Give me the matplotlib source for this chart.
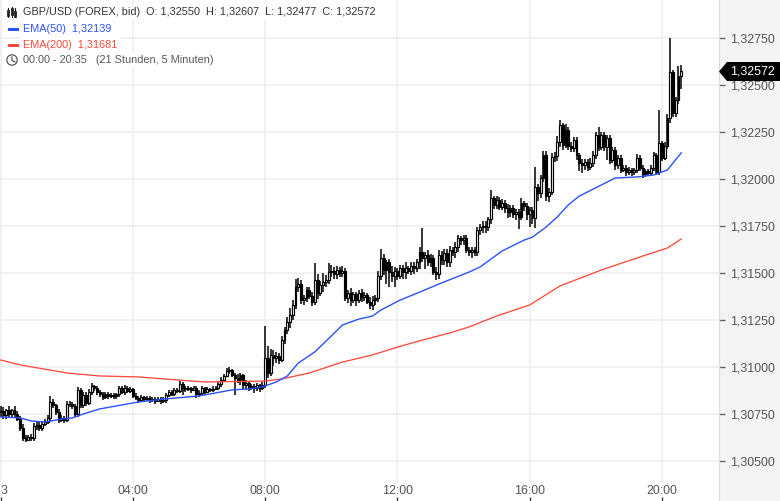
import matplotlib
matplotlib.use("Agg")
import matplotlib.pyplot as plt
from matplotlib.lines import Line2D
from matplotlib.patches import Circle, Polygon
from matplotlib.ticker import FuncFormatter
from matplotlib.transforms import IdentityTransform

# prices are points above the base: 760 -> 1,30760
BASE = 1.3

opens = [
    760, 765, 745, 772, 752, 770, 748, 722, 675, 622, 612, 628,
    620, 685, 690, 675, 697, 707, 729, 814, 798, 761, 718, 729,
    718, 803, 803, 792, 750, 878, 797, 851, 808, 867, 899, 888,
    867, 856, 840, 856, 846, 851, 846, 856, 888, 867, 888, 872,
    883, 846, 835, 824, 840, 830, 835, 824, 830, 819, 830, 819,
    824, 851, 867, 856, 878, 872, 909, 888, 883, 888, 878, 888,
    856, 862, 888, 867, 883, 878, 883, 888, 909, 931, 952, 979,
    984, 957, 941, 931, 957, 904, 915, 888, 899, 888, 904, 888,
    904, 1048, 968, 1064, 1048, 1058, 1037, 1143, 1197, 1239, 1276, 1330,
    1425, 1441, 1356, 1367, 1409, 1378, 1346, 1463, 1394, 1436, 1452, 1463,
    1505, 1511, 1495, 1516, 1500, 1511, 1367, 1394, 1356, 1388, 1356, 1394,
    1372, 1383, 1346, 1330, 1356, 1367, 1484, 1580, 1516, 1558, 1505, 1484,
    1511, 1484, 1526, 1505, 1526, 1511, 1537, 1526, 1558, 1612, 1580, 1596,
    1558, 1580, 1505, 1495, 1596, 1569, 1606, 1558, 1622, 1612, 1638, 1686,
    1675, 1686, 1622, 1612, 1622, 1612, 1729, 1745, 1750, 1745, 1787, 1899,
    1862, 1888, 1851, 1872, 1846, 1824, 1846, 1814, 1824, 1798, 1872, 1856,
    1814, 1835, 1792, 1957, 1925, 2005, 2128, 1909, 1931, 2117, 2122, 2197,
    2287, 2181, 2260, 2175, 2165, 2207, 2128, 2085, 2074, 2090, 2064, 2085,
    2128, 2234, 2170, 2234, 2170, 2218, 2101, 2154, 2074, 2112, 2048, 2058,
    2037, 2048, 2037, 2048, 2112, 2058, 2026, 2042, 2032, 2058, 2128, 2037,
    2191, 2112, 2175, 2324, 2569, 2351, 2420, 2550,
]
closes = [
    765, 745, 772, 752, 770, 748, 722, 675, 622, 612, 628, 620,
    685, 690, 675, 697, 707, 729, 814, 798, 761, 718, 729, 718,
    803, 803, 792, 750, 878, 797, 851, 808, 867, 899, 888, 867,
    856, 840, 856, 846, 851, 846, 856, 888, 867, 888, 872, 883,
    846, 835, 824, 840, 830, 835, 824, 830, 819, 830, 819, 824,
    851, 867, 856, 878, 872, 909, 888, 883, 888, 878, 888, 856,
    862, 888, 867, 883, 878, 883, 888, 909, 931, 952, 979, 984,
    957, 941, 931, 957, 904, 915, 888, 899, 888, 904, 888, 904,
    1048, 968, 1064, 1048, 1058, 1037, 1143, 1197, 1239, 1276, 1330, 1425,
    1441, 1356, 1367, 1409, 1378, 1346, 1463, 1394, 1436, 1452, 1463, 1505,
    1511, 1495, 1516, 1500, 1511, 1367, 1394, 1356, 1388, 1356, 1394, 1372,
    1383, 1346, 1330, 1356, 1367, 1484, 1580, 1516, 1558, 1505, 1484, 1511,
    1484, 1526, 1505, 1526, 1511, 1537, 1526, 1558, 1612, 1580, 1596, 1558,
    1580, 1505, 1495, 1596, 1569, 1606, 1558, 1622, 1612, 1638, 1686, 1675,
    1686, 1622, 1612, 1622, 1612, 1729, 1745, 1750, 1745, 1787, 1899, 1862,
    1888, 1851, 1872, 1846, 1824, 1846, 1814, 1824, 1798, 1872, 1856, 1814,
    1835, 1792, 1957, 1925, 2005, 2128, 1909, 1931, 2117, 2122, 2197, 2287,
    2181, 2260, 2175, 2165, 2207, 2128, 2085, 2074, 2090, 2064, 2085, 2128,
    2234, 2170, 2234, 2170, 2218, 2101, 2154, 2074, 2112, 2048, 2058, 2037,
    2048, 2037, 2048, 2112, 2058, 2026, 2042, 2032, 2058, 2128, 2037, 2191,
    2112, 2175, 2324, 2569, 2351, 2420, 2550, 2572,
]
highs = [
    790, 785, 775, 790, 775, 790, 768, 740, 695, 640, 640, 645,
    700, 705, 705, 712, 722, 745, 845, 830, 805, 775, 745, 740,
    820, 818, 815, 805, 895, 890, 865, 865, 882, 915, 905, 900,
    880, 868, 868, 868, 864, 862, 860, 900, 900, 905, 898, 895,
    890, 860, 845, 852, 848, 845, 848, 842, 842, 842, 838, 838,
    862, 880, 875, 890, 888, 925, 918, 900, 900, 895, 900, 900,
    875, 900, 895, 895, 890, 898, 900, 920, 945, 965, 992, 1000,
    990, 968, 960, 968, 965, 930, 925, 912, 908, 915, 910, 918,
    1218, 1110, 1095, 1090, 1080, 1075, 1165, 1215, 1265, 1315, 1355, 1470,
    1475, 1460, 1385, 1425, 1425, 1400, 1553, 1495, 1455, 1500, 1490, 1555,
    1540, 1530, 1535, 1530, 1535, 1525, 1410, 1420, 1400, 1400, 1410, 1415,
    1400, 1395, 1370, 1375, 1385, 1510, 1628, 1600, 1570, 1575, 1535, 1530,
    1525, 1545, 1540, 1560, 1535, 1560, 1560, 1575, 1640, 1739, 1610, 1620,
    1600, 1595, 1530, 1620, 1615, 1630, 1625, 1645, 1640, 1665, 1700, 1695,
    1700, 1700, 1640, 1640, 1640, 1745, 1760, 1775, 1775, 1800, 1940, 1910,
    1910, 1905, 1895, 1890, 1865, 1860, 1862, 1840, 1840, 1900, 1885, 1870,
    1850, 1850, 2064, 1975, 2020, 2150, 2150, 1950, 2140, 2145, 2230, 2314,
    2300, 2290, 2275, 2195, 2225, 2225, 2140, 2105, 2105, 2105, 2110, 2150,
    2250, 2276, 2250, 2250, 2235, 2232, 2170, 2170, 2125, 2125, 2075, 2075,
    2065, 2060, 2060, 2135, 2125, 2075, 2055, 2055, 2075, 2145, 2140, 2367,
    2200, 2195, 2345, 2750, 2580, 2435, 2600, 2607,
]
lows = [
    735, 725, 725, 735, 735, 730, 715, 660, 605, 600, 605, 605,
    605, 665, 660, 660, 685, 695, 715, 780, 745, 700, 705, 700,
    705, 785, 775, 735, 735, 780, 780, 790, 795, 850, 870, 850,
    840, 825, 830, 830, 835, 832, 830, 842, 855, 850, 860, 860,
    835, 822, 810, 812, 815, 820, 808, 815, 805, 815, 805, 808,
    808, 838, 845, 845, 860, 860, 850, 865, 870, 862, 870, 835,
    840, 850, 850, 862, 865, 868, 875, 878, 895, 918, 945, 965,
    945, 850, 915, 905, 885, 880, 870, 875, 862, 870, 868, 880,
    890, 940, 950, 1005, 1020, 1015, 1025, 1120, 1175, 1205, 1250, 1310,
    1400, 1335, 1330, 1345, 1360, 1325, 1330, 1360, 1375, 1400, 1425, 1440,
    1480, 1470, 1470, 1480, 1480, 1350, 1340, 1325, 1340, 1325, 1340, 1345,
    1350, 1335, 1310, 1305, 1330, 1345, 1465, 1490, 1440, 1425, 1450, 1425,
    1465, 1470, 1470, 1470, 1495, 1490, 1495, 1505, 1520, 1560, 1520, 1535,
    1530, 1490, 1460, 1470, 1545, 1540, 1530, 1530, 1590, 1580, 1610, 1650,
    1650, 1605, 1590, 1580, 1590, 1590, 1700, 1715, 1710, 1725, 1760, 1840,
    1840, 1835, 1835, 1820, 1790, 1800, 1790, 1780, 1734, 1780, 1830, 1780,
    1745, 1760, 1740, 1885, 1900, 1985, 1885, 1880, 1915, 2090, 2095, 2170,
    2155, 2165, 2155, 2145, 2145, 2100, 2040, 2032, 2050, 2040, 2050, 2065,
    2105, 2150, 2155, 2150, 2101, 2080, 2085, 2050, 2055, 2030, 2035, 2015,
    2020, 2015, 2020, 2030, 2040, 2005, 2010, 2015, 2020, 2040, 2020, 2020,
    2095, 2100, 2160, 2300, 2330, 2330, 2400, 2477,
]

# EMA lines, read at these candle numbers
ema50_at = [0, 7, 11, 16, 22, 26, 30, 36, 44, 50, 60, 72, 84, 90, 95, 100, 104, 108, 114, 120, 124,
            130, 135, 138, 145, 154, 159, 170, 174, 182, 190, 193, 198, 202, 206, 210, 218, 223,
            231, 237, 242, 244, 247]
ema50 = [734, 729, 713, 707, 723, 729, 750, 777, 798, 814, 830, 846, 878, 883, 894, 920, 952, 1021, 1080, 1165, 1223,
         1255, 1271, 1303, 1356, 1410, 1441, 1505, 1532, 1617, 1675, 1691, 1745, 1798, 1862, 1909, 1968, 2005,
         2011, 2021, 2048, 2085, 2139]
ema200_at = [0, 7, 24, 36, 50, 64, 74, 96, 102, 112, 124, 135, 144, 153, 163, 170, 180, 192, 203, 218, 232, 242, 247]
ema200 = [1037, 1011, 968, 952, 947, 931, 920, 925, 936, 968, 1026, 1064, 1106, 1143, 1181, 1213, 1271, 1330,
          1431, 1516, 1585, 1633, 1681]

price_ticks = [1.305, 1.3075, 1.31, 1.3125, 1.315, 1.3175, 1.32, 1.3225, 1.325, 1.3275]
time_ticks = [0, 48, 96, 144, 192, 240]
time_labels = ["3", "04:00", "08:00", "12:00", "16:00", "20:00"]

FONT = "Liberation Sans"
BLUE = "#2a52ff"
RED = "#ff4a3d"
GRID = "#eeeeee"


def price(points):
    return [BASE + p / 100000 for p in points]


def px(x, y):
    # figure coordinates from picture pixels
    return x / 780, 1 - y / 501


plt.rcParams["font.family"] = FONT

fig = plt.figure(figsize=(7.8, 5.01), dpi=100, facecolor="#f4f4f4")
ax = fig.add_axes([0, 0, 719 / 780, 1], facecolor="white")
ax.set_xlim(-0.27, 260.7)
ax.set_ylim(1.30287, 1.32952)

for name in ["top", "left", "bottom"]:
    ax.spines[name].set_visible(False)
ax.spines["right"].set_color("#dddddd")

for p in price_ticks:
    ax.axhline(p, color=GRID, lw=1.1, zorder=1)
ax.vlines(time_ticks, 0.036, 1, transform=ax.get_xaxis_transform(), color=GRID, lw=1.1, zorder=1)

# candles
n = len(closes)
xs = list(range(n))
ax.vlines(xs, price(lows), price(highs), color="black", lw=1.1, zorder=3)
for i in xs:
    up = closes[i] >= opens[i]
    bottom = min(opens[i], closes[i])
    height = abs(closes[i] - opens[i])
    ax.bar(i, height / 100000, bottom=BASE + bottom / 100000, width=0.68,
           facecolor="white" if up else "black", edgecolor="black", lw=0.85, zorder=4)

ax.plot(ema200_at, price(ema200), color=RED, lw=0.95, zorder=5)
ax.plot(ema50_at, price(ema50), color=BLUE, lw=1.0, zorder=5)

ax.yaxis.tick_right()
ax.set_yticks(price_ticks)
ax.yaxis.set_major_formatter(FuncFormatter(lambda v, pos: f"{v:.5f}".replace(".", ",")))
ax.tick_params(axis="y", length=4, width=1, color="#666666", labelcolor="#555555", labelsize=8.9, pad=3.8)
ax.set_xticks(time_ticks)
ax.set_xticklabels(time_labels)
ax.tick_params(axis="x", direction="in", length=3, width=1, color="#444444", labelcolor="#555555",
               labelsize=8.9, pad=-11.8)
ax.get_xticklabels()[0].set_ha("left")

# header rows sit on white so the grid stops behind them
white = dict(facecolor="white", edgecolor="none", pad=2)
fig.text(*px(23, 12), "GBP/USD (FOREX, bid)  O: 1,32550  H: 1,32607  L: 1,32477  C: 1,32572",
         fontsize=7.85, color="#333333", va="center", bbox=white)
fig.text(*px(23, 29), "EMA(50)  1,32139", fontsize=7.85, color=BLUE, va="center", bbox=white)
fig.text(*px(23, 45), "EMA(200)  1,31681", fontsize=7.85, color=RED, va="center", bbox=white)
fig.text(*px(23, 60), "00:00 - 20:35   (21 Stunden, 5 Minuten)", fontsize=7.85, color="#555555", va="center", bbox=white)

fig.add_artist(Line2D(*zip(px(9, 29), px(17, 29)), color=BLUE, lw=2.2, zorder=6))
fig.add_artist(Line2D(*zip(px(9, 45), px(17, 45)), color=RED, lw=2.2, zorder=6))

# bars icon
for x, top, bottom, y0, y1 in [(7.5, 8, 17, 11, 15), (11.5, 7, 17, 9, 14), (15.5, 8, 17, 12, 16)]:
    fig.add_artist(Line2D(*zip(px(x, top), px(x, bottom)), color="#222222", lw=0.8, zorder=6))
    fig.add_artist(Line2D(*zip(px(x, y0), px(x, y1)), color="#222222", lw=2.0, zorder=6))

# clock icon
fig.add_artist(Circle((12, 501 - 60), 5.2, transform=IdentityTransform(), fill=False,
                      edgecolor="#444444", lw=0.8, zorder=6))
fig.add_artist(Line2D(*zip(px(12, 57), px(12, 60.5), px(15, 62)), color="#444444", lw=0.8, zorder=6))

# last price tag
tag = Polygon([px(719, 71.5), px(727, 62), px(780, 62), px(780, 81), px(727, 81)], closed=True,
              transform=fig.transFigure, facecolor="black", edgecolor="none", zorder=6)
fig.add_artist(tag)
fig.text(*px(730, 72), "1,32572", fontsize=8.9, color="white", va="center", zorder=7)

fig.savefig("out.png", dpi=100, facecolor=fig.get_facecolor())
